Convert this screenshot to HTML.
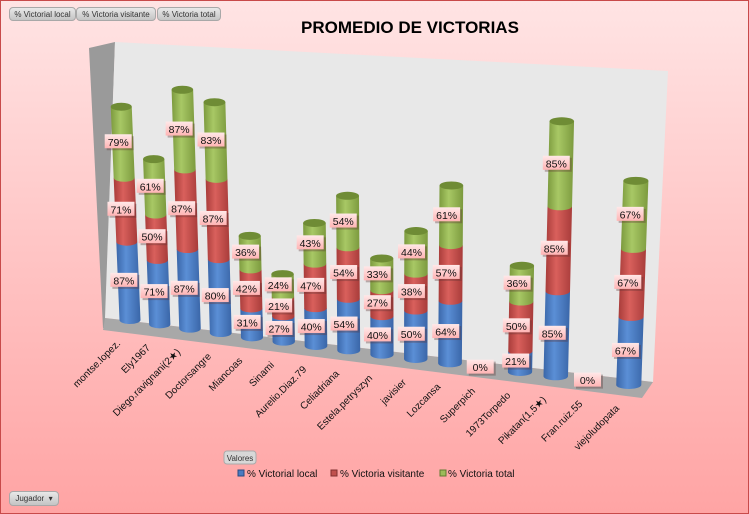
<!DOCTYPE html>
<html><head><meta charset="utf-8"><style>
body{margin:0}
#c{position:relative;width:749px;height:514px;overflow:hidden;font-family:"Liberation Sans",sans-serif}
.btn{position:absolute;height:14px;top:7px;background:linear-gradient(#e8e8e8,#c4c4c4);border:1px solid #a8a8a8;border-radius:4px;font-size:8px;line-height:14px;color:#333;padding:0 2px;box-sizing:border-box;white-space:nowrap;overflow:hidden;text-align:center}
</style></head><body>
<div id="c">
<svg id="s" width="749" height="514" style="position:absolute;left:0;top:0">
<defs>
<linearGradient id="bg" x1="0" y1="0" x2="0" y2="1"><stop offset="0" stop-color="#ffe4e4"/><stop offset="1" stop-color="#ffa4a4"/></linearGradient>
<linearGradient id="gb" x1="0" x2="1"><stop offset="0" stop-color="#3a66a8"/><stop offset=".4" stop-color="#5b8fd6"/><stop offset="1" stop-color="#3a66a8"/></linearGradient>
<linearGradient id="gr" x1="0" x2="1"><stop offset="0" stop-color="#a83c3a"/><stop offset=".4" stop-color="#d9605c"/><stop offset="1" stop-color="#a83c3a"/></linearGradient>
<linearGradient id="gg" x1="0" x2="1"><stop offset="0" stop-color="#7c9a3e"/><stop offset=".4" stop-color="#a8c865"/><stop offset="1" stop-color="#7c9a3e"/></linearGradient>
<linearGradient id="lb" x1="0" y1="0" x2="0" y2="1"><stop offset="0" stop-color="#ffe8e8"/><stop offset="1" stop-color="#ffb4b4"/></linearGradient>
</defs>
<rect x="0.5" y="0.5" width="748" height="513" fill="url(#bg)" stroke="#c84a4a"/>
<polygon points="89,48 115,42 105,328 103,328" fill="#9a9a9a"/>
<polygon points="115,42 668,71 653,382 105,318" fill="#e8e8e8"/>
<polygon points="105,318 653,382 642,398 103,330" fill="#a8a8a8"/>
<text x="410" y="33" text-anchor="middle" font-size="17" font-weight="bold" fill="#000">PROMEDIO DE VICTORIAS</text>
<g id="bars"></g>
<g id="labs"></g>
<g id="cats"></g>
<rect x="224" y="451" width="32" height="13" rx="3" fill="#d8d8d8" stroke="#aaa"/>
<text x="240" y="461" text-anchor="middle" font-size="8" fill="#333">Valores</text>
<g font-size="10" fill="#111">
<rect x="238" y="470" width="6" height="6" fill="#4a7bc0" stroke="#2a4a80"/>
<text x="247" y="477">% Victorial local</text>
<rect x="331" y="470" width="6" height="6" fill="#c0504d" stroke="#803030"/>
<text x="340" y="477">% Victoria visitante</text>
<rect x="440" y="470" width="6" height="6" fill="#9bbb59" stroke="#607a30"/>
<text x="448" y="477">% Victoria total</text>
</g>
</svg>
<div class="btn" style="left:9px;width:67px">% Victorial local</div>
<div class="btn" style="left:76px;width:80px">% Victoria visitante</div>
<div class="btn" style="left:157px;width:64px">% Victoria total</div>
<div class="btn" style="left:9px;top:491px;width:50px;height:15px">Jugador &nbsp;&#9662;</div>
</div>
<script>
const categories=["montse.lopez.","Ely1967","Diego.ravignani(2★)","Doctorsangre","Miancoas","Sinami","Aurelio.Diaz.79","Celiadriana","Estela.petryszyn","javisier","Lozcansa","Superpich","1973Torpedo","Pikatan(1,5★)","Fran.ruiz.55","viejoludopata"];
const localVals=[87,71,87,80,31,27,40,54,40,50,64,0,21,85,0,67];
const visitVals=[71,50,87,87,42,21,47,54,27,38,57,0,50,85,0,67];
const totalVals=[79,61,87,83,36,24,43,54,33,44,61,0,36,85,0,67];
const NS="http://www.w3.org/2000/svg";
function mk(t,a,p){const e=document.createElementNS(NS,t);for(const k in a)e.setAttribute(k,a[k]);p.appendChild(e);return e;}
function bx(i){return 130+29.5*i+0.25*i*i;}
function by(i){return 320+4.33*i;}
function sc(i){return 0.9+0.0077*i;}
function bw(i){return 21+0.27*i;}
function tilt(x){return (x-400)*0.000152;}
const bars=document.getElementById('bars'),labs=document.getElementById('labs'),cats=document.getElementById('cats');
const series=[[localVals,'url(#gb)','#2f5a96','local'],[visitVals,'url(#gr)','#9a3532','visitante'],[totalVals,'url(#gg)','#6f8c35','total']];
categories.forEach((c,i)=>{
  const x0=bx(i),y0=by(i),s=sc(i),w=bw(i),t=tilt(x0),ry=4;
  let cum=0;
  const cx=h=>x0+t*h;
  series.forEach(([vals,fill,dark,nm],k)=>{
    const v=vals[i];
    const h0=cum*s,h1=(cum+v)*s;cum+=v;
    if(v>0){
      const yb=y0-h0,yt=y0-h1,xb=cx(h0),xt=cx(h1);
      const p=mk('path',{d:`M${xb-w/2},${yb} L${xt-w/2},${yt} L${xt+w/2},${yt} L${xb+w/2},${yb} A${w/2},${ry} 0 0 1 ${xb-w/2},${yb} Z`,fill:fill},bars);
      
      
      if(k===2){
        const e=mk('ellipse',{cx:xt,cy:yt,rx:w/2,ry:ry,fill:dark},bars);
        
        
      }
    }
    const hm=(h0+h1)/2,ly=y0-hm,lx=cx(hm)-4;
    const g=mk('g',{},labs);
    
    
    if(v===0&&k>0)return;
    mk('rect',{x:lx-12,y:ly-6,width:27,height:14,fill:'#5a3030',opacity:.35},g);
    mk('rect',{x:lx-14,y:ly-8,width:27,height:14,fill:'url(#lb)'},g);
    const tx=mk('text',{x:lx-0.5,y:ly+3.5,'text-anchor':'middle','font-size':10.5,fill:'#111'},g);
    tx.textContent=v+'%';
  });
  const tx=mk('text',{x:0,y:0,'text-anchor':'end','font-size':10,fill:'#111',transform:`translate(${x0-9},${y0+24}) rotate(-45)`},cats);
  tx.textContent=c;
  
  
});
</script>
</body></html>
